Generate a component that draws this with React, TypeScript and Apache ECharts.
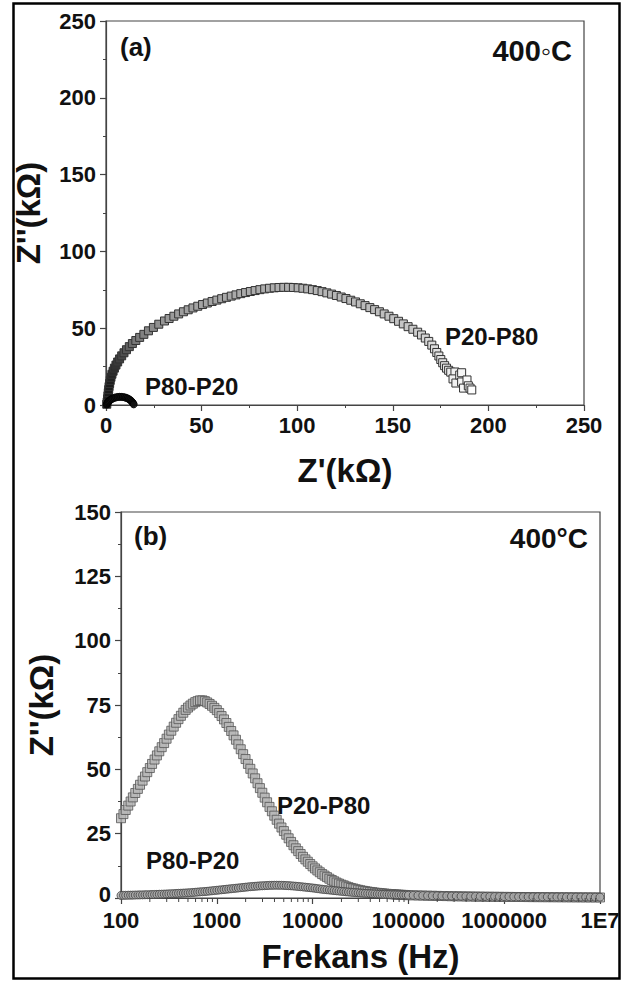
import React, { useEffect, useRef } from "react";
import * as echarts from "echarts";

// ---------- (a) Nyquist data: [Z' (kΩ), Z'' (kΩ)] ----------
const nyquistP20P80: [number, number][] = [
  [0.4, 0.5], [0.6, 2], [0.8, 4], [1.0, 6], [1.2, 8], [1.4, 10], [1.6, 12], [1.9, 14], [2.2, 16], [2.6, 18],
  [3.1, 20], [3.7, 22], [4.4, 24], [5.2, 26], [6.1, 28], [7.1, 30], [8.2, 32], [9.4, 34], [10.7, 36], [12.2, 38],
  [13.8, 40], [15.6, 42], [17.6, 44], [19.8, 46], [22.2, 48.3], [24.8, 50.5], [27.6, 52.6], [30.6, 54.7], [33.0, 56.3], [35.5, 57.8],
  [38, 59.3], [40.5, 60.7], [43, 62], [45.5, 63.2], [48, 64.3], [50.5, 65.4], [53, 66.4], [55.5, 67.4], [58, 68.3], [60.5, 69.2],
  [63, 70.1], [65.5, 70.9], [68, 71.7], [70.5, 72.5], [73, 73.2], [75.5, 73.9], [78, 74.5], [80.5, 75.1], [83, 75.6], [85.5, 76],
  [88, 76.3], [90.5, 76.5], [93, 76.6], [95.5, 76.6], [98, 76.5], [100.5, 76.3], [103, 76], [105.5, 75.6], [108, 75.1], [110.5, 74.5],
  [113, 73.8], [115.5, 73], [118, 72.2], [120.5, 71.3], [123, 70.3], [125.5, 69.3], [128, 68.2], [130.5, 67.1], [133, 65.9], [135.5, 64.7],
  [138, 63.4], [140.5, 62.1], [143, 60.7], [145.5, 59.3], [148, 57.8], [150.5, 56.2], [153, 54.5], [155.5, 52.8], [158, 51], [160.5, 49.3],
  [163, 47.4], [165, 45.6], [167, 43.6], [168.8, 41.4], [170.4, 39], [171.8, 36.6], [173, 34.2], [174.1, 31.9], [175.1, 29.6], [176.1, 27.5],
  [177.1, 25.6], [178.1, 24], [179.2, 22.6], [180.3, 21.4], [182.5, 21.5], [181.5, 17], [183, 14.3], [185, 19.5], [186, 21], [186, 15],
  [187, 11], [188.8, 16.3], [189.5, 12.5], [190.4, 11], [191.3, 9.8],
];
const nyquistP80P20: [number, number][] = [
  [0.4, 0.3], [0.6, 1.0], [0.9, 1.7], [1.3, 2.3], [1.8, 2.9], [2.4, 3.4], [3.0, 3.9], [3.7, 4.3], [4.5, 4.7], [5.3, 5.0],
  [6.1, 5.2], [7.0, 5.3], [7.9, 5.3], [8.8, 5.2], [9.7, 5.0], [10.5, 4.7], [11.3, 4.3], [12.0, 3.8], [12.7, 3.2], [13.3, 2.5],
  [13.8, 1.8], [14.2, 1.1], [14.5, 0.4],
];

// ---------- (b) Z'' vs frequency ----------
const freqHz = [
  100, 106, 112, 119, 126, 133, 141, 150, 158, 168, 178, 188, 200, 211, 224, 237, 251, 266, 282, 299,
  316, 335, 355, 376, 398, 422, 447, 473, 501, 531, 562, 596, 631, 668, 708, 750, 794, 841, 891, 944,
  1000, 1059, 1122, 1189, 1259, 1334, 1413, 1496, 1585, 1679, 1778, 1884, 1995, 2113, 2239, 2371, 2512, 2661, 2818, 2985,
  3162, 3350, 3548, 3758, 3981, 4217, 4467, 4732, 5012, 5309, 5623, 5957, 6310, 6683, 7079, 7499, 7943, 8414, 8913, 9441,
  10000, 10593, 11220, 11885, 12589, 13335, 14125, 14962, 15849, 16788, 17783, 18836, 19953, 21135, 22387, 23714, 25119, 26607, 28184, 29854,
  31623, 33497, 35481, 37584, 39811, 42170, 44668, 47315, 50119, 53088, 56234, 59566, 63096, 66834, 70795, 74989, 79433, 84140, 89125, 94406,
  100000,
  112202, 125893, 141254, 158489, 177828, 199526, 223872, 251189, 281838, 316228, 354813, 398107, 446684, 501187, 562341, 630957, 707946, 794328, 891251, 1000000,
  1122018, 1258925, 1412538, 1584893, 1778279, 1995262, 2238721, 2511886, 2818383, 3162278, 3548134, 3981072, 4466836, 5011872, 5623413, 6309573, 7079458, 7943282, 8912509, 10000000,
];
const zImFreqP20P80 = [
  31, 32.6, 34.2, 35.9, 37.5, 39.1, 40.8, 42.4, 44, 45.6, 47.2, 48.9, 50.5, 52.1, 53.8, 55.4, 57, 58.6, 60.2, 61.9,
  63.5, 65, 66.6, 68.1, 69.5, 70.8, 72, 73.1, 74, 74.8, 75.5, 76.1, 76.5, 76.8, 76.8, 76.5, 76, 75.4, 74.7, 73.9,
  73, 71.9, 70.7, 69.4, 68, 66.5, 64.9, 63.2, 61.5, 59.7, 57.8, 55.9, 54, 52.1, 50.2, 48.4, 46.5, 44.6, 42.7, 40.9,
  39, 37.2, 35.4, 33.7, 32, 30.4, 28.9, 27.4, 26, 24.6, 23.2, 21.8, 20.5, 19.3, 18.2, 17.1, 16, 15, 14.1, 13.2,
  12.3, 11.5, 10.7, 10, 9.3, 8.7, 8.1, 7.5, 7, 6.5, 6, 5.6, 5.2, 4.9, 4.5, 4.2, 3.9, 3.7, 3.4, 3.2,
  3, 2.8, 2.65, 2.5, 2.35, 2.25, 2.1, 2, 1.9, 1.8, 1.72, 1.63, 1.55, 1.49, 1.42, 1.36, 1.3, 1.25, 1.2, 1.15,
  1.1,
  1.05, 1.0, 0.95, 0.9, 0.86, 0.82, 0.78, 0.74, 0.7, 0.67, 0.64, 0.61, 0.58, 0.55, 0.53, 0.51, 0.49, 0.47, 0.45, 0.43,
  0.42, 0.4, 0.39, 0.38, 0.36, 0.35, 0.34, 0.33, 0.32, 0.31, 0.3, 0.29, 0.28, 0.27, 0.26, 0.25, 0.24, 0.23, 0.22, 0.21,
];
const zImFreqP80P20 = [
  1.0, 1.02, 1.05, 1.08, 1.1, 1.12, 1.15, 1.18, 1.2, 1.22, 1.25, 1.28, 1.3, 1.33, 1.36, 1.4, 1.45, 1.48, 1.52, 1.56,
  1.6, 1.65, 1.7, 1.75, 1.8, 1.85, 1.9, 1.95, 2.0, 2.07, 2.15, 2.22, 2.3, 2.38, 2.45, 2.52, 2.6, 2.7, 2.8, 2.9,
  3.0, 3.1, 3.2, 3.3, 3.4, 3.5, 3.6, 3.7, 3.8, 3.9, 4.0, 4.1, 4.2, 4.3, 4.4, 4.48, 4.55, 4.63, 4.7, 4.75,
  4.8, 4.85, 4.9, 4.93, 4.95, 4.96, 4.95, 4.93, 4.9, 4.85, 4.8, 4.73, 4.65, 4.58, 4.5, 4.4, 4.3, 4.2, 4.1, 4.0,
  3.9, 3.78, 3.65, 3.52, 3.4, 3.3, 3.2, 3.1, 3.0, 2.9, 2.8, 2.7, 2.6, 2.5, 2.4, 2.32, 2.25, 2.17, 2.1, 2.02,
  1.95, 1.88, 1.8, 1.75, 1.7, 1.65, 1.6, 1.55, 1.5, 1.46, 1.42, 1.38, 1.35, 1.31, 1.28, 1.25, 1.22, 1.19, 1.16, 1.13,
  1.1,
  1.05, 1.0, 0.96, 0.92, 0.88, 0.85, 0.82, 0.79, 0.76, 0.73, 0.7, 0.68, 0.66, 0.64, 0.62, 0.6, 0.58, 0.56, 0.55, 0.53,
  0.52, 0.5, 0.49, 0.48, 0.47, 0.46, 0.45, 0.44, 0.43, 0.42, 0.41, 0.4, 0.39, 0.38, 0.37, 0.36, 0.35, 0.34, 0.33, 0.32,
];
const logMinorTickFreqs = [
  200, 300, 400, 500, 600, 700, 800, 900,
  2000, 3000, 4000, 5000, 6000, 7000, 8000, 9000,
  20000, 30000, 40000, 50000, 60000, 70000, 80000, 90000,
  200000, 300000, 400000, 500000, 600000, 700000, 800000, 900000,
  2000000, 3000000, 4000000, 5000000, 6000000, 7000000, 8000000, 9000000,
];

const FONT = '"Liberation Sans", Arial, Helvetica, sans-serif';
const AXIS_COLOR = "#444";
const LABEL_STYLE = { fontFamily: FONT, fontSize: 22, fontWeight: "bold" as const, color: "#111" };

function axisCommon() {
  return {
    axisLine: { show: true, onZero: false, lineStyle: { color: AXIS_COLOR, width: 1.2 } },
    axisTick: { show: true, inside: false, length: 6, lineStyle: { color: AXIS_COLOR, width: 1.2 } },
    splitLine: { show: false },
    axisLabel: { ...LABEL_STYLE },
    nameTextStyle: { fontFamily: FONT, fontSize: 33, fontWeight: "bold" as const, color: "#111" },
  };
}

export default function App() {
  const ref = useRef<HTMLDivElement>(null);
  useEffect(() => {
    if (!ref.current) return;
    const chart = echarts.init(ref.current, undefined, { renderer: "svg" });
    const c = axisCommon();
    const txt = (text: string, x: number, y: number, size: number, align = "left") => ({
      type: "text",
      x,
      y,
      silent: true,
      style: {
        text,
        fill: "#111",
        fontFamily: FONT,
        fontSize: size,
        fontWeight: "bold",
        align,
        verticalAlign: "middle",
      },
    });
    const minor = { show: true, splitNumber: 2, length: 3, lineStyle: { color: AXIS_COLOR, width: 1 } };
    chart.setOption({
      animation: false,
      backgroundColor: "#fff",
      grid: [
        { left: 106, top: 21, width: 478, height: 384, show: true, borderColor: AXIS_COLOR, borderWidth: 1.2 },
        { left: 121, top: 512, width: 479, height: 386, show: true, borderColor: AXIS_COLOR, borderWidth: 1.2 },
      ],
      xAxis: [
        {
          ...c,
          type: "value",
          gridIndex: 0,
          min: 0,
          max: 250,
          interval: 50,
          name: "Z'(kΩ)",
          nameLocation: "middle",
          nameGap: 49,
          minorTick: minor,
          axisLabel: { ...c.axisLabel, margin: 9 },
        },
        {
          ...c,
          type: "log",
          logBase: 10,
          gridIndex: 1,
          min: 100,
          max: 10000000,
          splitNumber: 5,
          name: "Frekans (Hz)",
          nameLocation: "middle",
          nameGap: 42,
          axisLabel: {
            ...c.axisLabel,
            margin: 11,
            formatter: (v: number) => {
              const r = Math.round(v);
              return r >= 10000000 ? "1E7" : String(r);
            },
          },
        },
      ],
      yAxis: [
        {
          ...c,
          type: "value",
          gridIndex: 0,
          min: 0,
          max: 250,
          interval: 50,
          name: "Z''(kΩ)",
          nameLocation: "middle",
          nameGap: 61,
          minorTick: minor,
          axisLabel: { ...c.axisLabel, margin: 10 },
        },
        {
          ...c,
          type: "value",
          gridIndex: 1,
          min: 0,
          max: 150,
          interval: 25,
          name: "Z''(kΩ)",
          nameLocation: "middle",
          nameGap: 63,
          minorTick: minor,
          axisLabel: {
            ...c.axisLabel,
            margin: 10,
            formatter: (v: number) => (v === 0 ? "{z|0}" : String(v)),
            rich: { z: { ...LABEL_STYLE, padding: [0, 0, 8, 0] } },
          },
        },
      ],
      visualMap: [
        {
          type: "continuous",
          show: false,
          seriesIndex: 0,
          dimension: 0,
          min: 0,
          max: 192,
          inRange: {
            color: [
              "#111111", "#7a7a7a", "#999999", "#a3a3a3", "#a8a8a8", "#acacac", "#b0b0b0",
              "#b4b4b4", "#b8b8b8", "#bdbdbd", "#c8c8c8", "#e6e6e6", "#ffffff",
            ],
          },
        },
      ],
      series: [
        {
          name: "P20-P80 (a)",
          type: "scatter",
          xAxisIndex: 0,
          yAxisIndex: 0,
          symbol: "rect",
          symbolSize: 8,
          itemStyle: { borderColor: "#333", borderWidth: 1, opacity: 1 },
          data: nyquistP20P80,
        },
        {
          name: "P80-P20 (a)",
          type: "scatter",
          xAxisIndex: 0,
          yAxisIndex: 0,
          symbol: "circle",
          symbolSize: 7,
          itemStyle: { color: "#111", borderColor: "#000", borderWidth: 1 },
          data: nyquistP80P20,
        },
        {
          name: "P20-P80 (b)",
          type: "scatter",
          xAxisIndex: 1,
          yAxisIndex: 1,
          symbol: "rect",
          symbolSize: 9,
          itemStyle: { color: "#b5b5b5", borderColor: "#555", borderWidth: 1 },
          data: freqHz.map((f, i) => [f, zImFreqP20P80[i]]),
        },
        {
          name: "P80-P20 (b)",
          type: "scatter",
          xAxisIndex: 1,
          yAxisIndex: 1,
          symbol: "circle",
          symbolSize: 8,
          itemStyle: { color: "#a8a8a8", borderColor: "#444", borderWidth: 1 },
          data: freqHz.map((f, i) => [f, zImFreqP80P20[i]]),
        },
        {
          name: "log minor ticks",
          type: "custom",
          xAxisIndex: 1,
          yAxisIndex: 1,
          silent: true,
          clip: false,
          z: 10,
          data: logMinorTickFreqs.map((f) => [f, 0]),
          renderItem: (_p: any, api: any) => {
            const p = api.coord([api.value(0), 0]);
            return {
              type: "line",
              shape: { x1: p[0], y1: p[1], x2: p[0], y2: p[1] + 4 },
              style: { stroke: AXIS_COLOR, lineWidth: 1 },
            };
          },
        },
      ],
      graphic: [
        {
          type: "rect",
          silent: true,
          shape: { x: 13.5, y: 3.5, width: 606, height: 975 },
          style: { fill: "none", stroke: "#000", lineWidth: 2.5 },
        },
        txt("(a)", 120, 47, 26),
        txt("400◦C", 572, 51, 29, "right"),
        txt("P20-P80", 445, 336, 24),
        txt("P80-P20", 145, 386, 24),
        txt("(b)", 134, 536, 26),
        txt("400°C", 588, 538, 28, "right"),
        txt("P20-P80", 277, 805, 24),
        txt("P80-P20", 146, 860, 24),
      ],
    });
    return () => chart.dispose();
  }, []);
  return <div ref={ref} style={{ position: "absolute", left: 0, top: 0, width: 625, height: 981 }} />;
}
